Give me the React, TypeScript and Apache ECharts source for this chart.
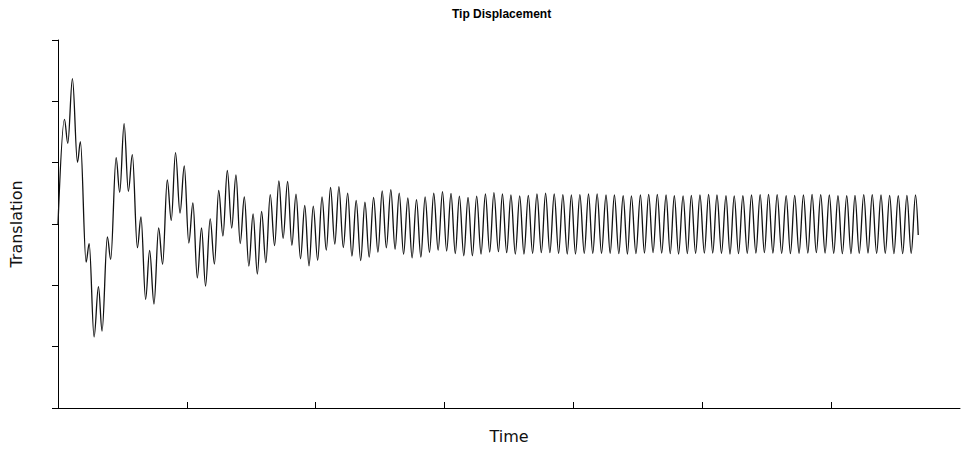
import React, { useEffect, useRef } from "react";
import * as echarts from "echarts";

// Time (s) at each turning point of the trace
const time: number[] = [
  0, 0.05, 0.076, 0.112, 0.151, 0.174, 0.218, 0.242, 0.28, 0.314,
  0.342, 0.383, 0.409, 0.451, 0.479, 0.513, 0.546, 0.577, 0.616, 0.644,
  0.68, 0.711, 0.745, 0.781, 0.812, 0.848, 0.879, 0.912, 0.947, 0.98,
  1.015, 1.047, 1.081, 1.114, 1.145, 1.181, 1.214, 1.247, 1.28, 1.314,
  1.348, 1.381, 1.414, 1.446, 1.481, 1.514, 1.547, 1.58, 1.613, 1.647,
  1.681, 1.714, 1.747, 1.782, 1.815, 1.847, 1.882, 1.915, 1.948, 1.981,
  2.015, 2.049, 2.082, 2.115, 2.148, 2.18, 2.214, 2.248, 2.281, 2.314,
  2.349, 2.382, 2.415, 2.449, 2.483, 2.516, 2.548, 2.583, 2.616, 2.648,
  2.682, 2.715, 2.748, 2.782, 2.816, 2.849,
  2.883, 2.916, 2.95, 2.984, 3.016, 3.05, 3.083, 3.115, 3.149, 3.182,
  3.216, 3.249, 3.283, 3.317, 3.35, 3.383, 3.418, 3.449, 3.482, 3.515,
  3.549, 3.583, 3.616, 3.65, 3.683, 3.717, 3.751, 3.784, 3.817, 3.851,
  3.885, 3.918, 3.952, 3.984, 4.016, 4.05, 4.084, 4.117, 4.15, 4.184,
  4.218, 4.253, 4.285, 4.318, 4.352, 4.386, 4.419, 4.45, 4.485, 4.52,
  4.551, 4.584, 4.618, 4.651, 4.685, 4.719, 4.751, 4.783, 4.816, 4.851,
  4.884, 4.915, 4.948, 4.982, 5.016, 5.049, 5.081, 5.114, 5.149, 5.184,
  5.215, 5.248, 5.281, 5.315, 5.349, 5.382, 5.416, 5.449, 5.482, 5.514,
  5.548, 5.581, 5.616, 5.651, 5.684, 5.717, 5.751, 5.785, 5.819, 5.852,
  5.885, 5.919, 5.953, 5.986, 6.02, 6.053, 6.087, 6.121, 6.154, 6.185,
  6.218, 6.253, 6.286, 6.319, 6.353, 6.387, 6.42, 6.454, 6.487, 6.521,
  6.555, 6.588, 6.621, 6.655, 6.676,
];

// Translation at each of those points
const translation: number[] = [
  0, 1.707, 1.316, 2.369, 1.006, 1.342, -0.62, -0.321, -1.842, -1.022,
  -1.745, -0.212, -0.576, 1.081, 0.517, 1.635, 0.533, 1.13, -0.386, 0.114,
  -1.228, -0.429, -1.304, -0.065, -0.657, 0.717, 0.06, 1.163, 0.179, 0.946,
  -0.31, 0.342, -0.88, -0.065, -1.011, 0.082, -0.652, 0.546, -0.196, 0.872,
  -0.065, 0.799, -0.318, 0.44, -0.685, 0.163, -0.815, 0.204, -0.631, 0.478,
  -0.351, 0.701, -0.232, 0.693, -0.346, 0.486, -0.567, 0.302, -0.682, 0.29,
  -0.59, 0.443, -0.427, 0.595, -0.329, 0.611, -0.383, 0.502, -0.525, 0.383,
  -0.595, 0.355, -0.541, 0.432, -0.46, 0.541, -0.388, 0.559, -0.411, 0.505,
  -0.492, 0.424, -0.551, 0.399, -0.541, 0.443,
  -0.461, 0.501, -0.427, 0.527, -0.44, 0.497, -0.481, 0.453, -0.518, 0.432,
  -0.518, 0.453, -0.489, 0.489, -0.457, 0.51, -0.452, 0.489, -0.468, 0.473,
  -0.489, 0.457, -0.489, 0.468, -0.478, 0.489, -0.468, 0.501, -0.468, 0.489,
  -0.478, 0.478, -0.489, 0.473, -0.489, 0.478, -0.478, 0.489, -0.478, 0.489,
  -0.478, 0.473, -0.478, 0.473, -0.484, 0.461, -0.489, 0.457, -0.484, 0.473,
  -0.473, 0.484, -0.468, 0.484, -0.473, 0.473, -0.484, 0.461, -0.489, 0.457,
  -0.484, 0.468, -0.478, 0.473, -0.473, 0.484, -0.473, 0.473, -0.478, 0.461,
  -0.489, 0.457, -0.484, 0.461, -0.478, 0.473, -0.473, 0.478, -0.468, 0.484,
  -0.473, 0.478, -0.478, 0.464, -0.484, 0.466, -0.478, 0.473, -0.473, 0.484,
  -0.468, 0.478, -0.473, 0.473, -0.478, 0.461, -0.484, 0.461, -0.484, 0.468,
  -0.478, 0.478, -0.473, 0.478, -0.478, 0.473, -0.478, 0.468, -0.484, 0.461,
  -0.484, 0.468, -0.478, 0.473, -0.179,
];

const xTickValues: number[] = [1, 2, 3, 4, 5, 6];

const titleText = "Tip Displacement";
const xName = "Time";
const yName = "Translation";

export default function App() {
  const ref = useRef<HTMLDivElement>(null);

  useEffect(() => {
    document.body.style.margin = "0";
    if (!ref.current) return;
    const chart = echarts.init(ref.current, undefined, { renderer: "svg" });
    const data = time.map((t, i) => [t, translation[i]]);
    const axisColor = "#000";
    chart.setOption({
      animation: false,
      backgroundColor: "#fff",
      title: {
        text: titleText,
        left: 447,
        top: 3,
        textStyle: {
          fontFamily: "Liberation Sans",
          fontSize: 12,
          fontWeight: "bold",
          color: "#000",
        },
      },
      grid: { left: 56, right: 16, top: 40, bottom: 43, containLabel: false },
      xAxis: {
        type: "value",
        min: 0,
        max: 7,
        interval: 1,
        name: xName,
        nameLocation: "middle",
        nameGap: 20,
        nameTextStyle: { fontFamily: "DejaVu Sans", fontSize: 16, color: "#111" },
        axisLine: { show: true, onZero: false, lineStyle: { color: axisColor, width: 1 } },
        axisTick: {
          show: true,
          inside: true,
          length: 6,
          customValues: xTickValues,
          lineStyle: { color: axisColor, width: 1 },
        },
        axisLabel: { show: false },
        splitLine: { show: false },
      },
      yAxis: {
        type: "value",
        min: -3,
        max: 3,
        interval: 1,
        name: yName,
        nameLocation: "middle",
        nameGap: 34,
        nameTextStyle: { fontFamily: "DejaVu Sans", fontSize: 16, color: "#111" },
        axisLine: { show: true, onZero: false, lineStyle: { color: axisColor, width: 1 } },
        axisTick: { show: true, inside: false, length: 6, lineStyle: { color: axisColor, width: 1 } },
        axisLabel: { show: false },
        splitLine: { show: false },
      },
      series: [
        {
          type: "line",
          data,
          showSymbol: false,
          smooth: 0.36,
          smoothMonotone: "x",
          lineStyle: { color: "#111", width: 1.3 },
          silent: true,
        },
      ],
    });
    return () => chart.dispose();
  }, []);

  return <div ref={ref} style={{ width: 976, height: 451 }} />;
}
